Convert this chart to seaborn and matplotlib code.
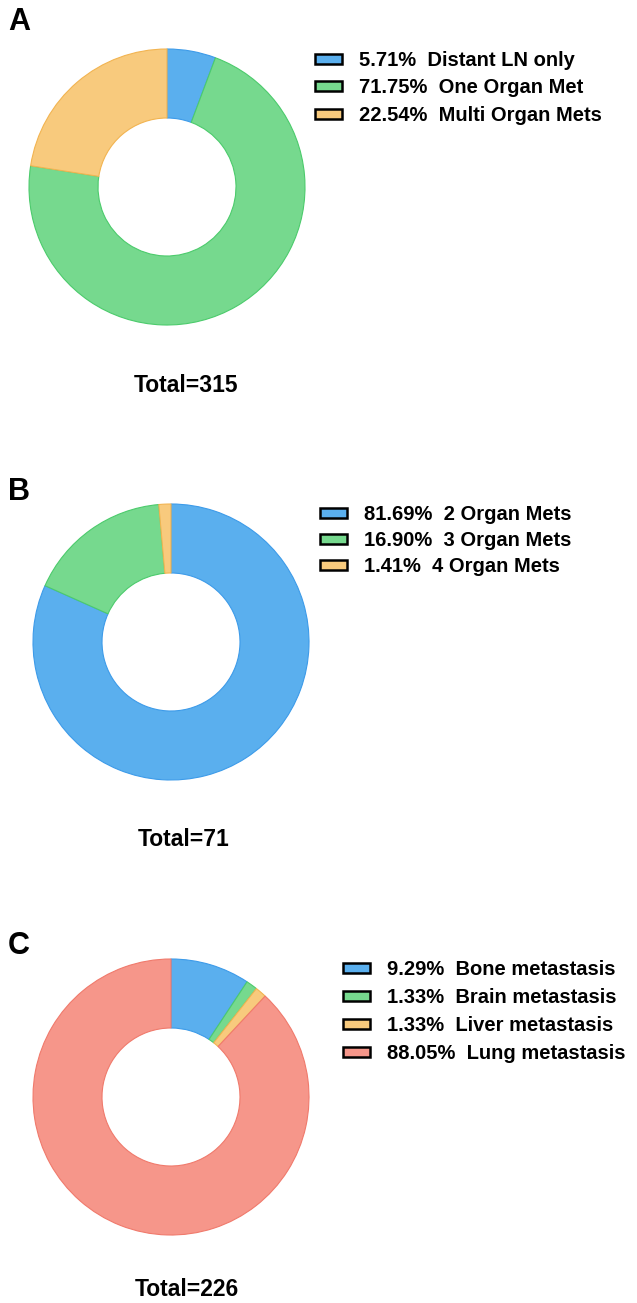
import matplotlib
matplotlib.use("Agg")
import matplotlib.pyplot as plt
from matplotlib.patches import Patch
import seaborn as sns

sns.set_theme(style="white")
plt.rcParams['font.family'] = ['Liberation Sans', 'DejaVu Sans']
plt.rcParams['text.color'] = 'black'

# ---- data ----
labels_a = ["Distant LN only", "One Organ Met", "Multi Organ Mets"]
values_a = [5.71, 71.75, 22.54]
total_a = 315

labels_b = ["2 Organ Mets", "3 Organ Mets", "4 Organ Mets"]
values_b = [81.69, 16.90, 1.41]
total_b = 71

labels_c = ["Bone metastasis", "Brain metastasis", "Liver metastasis", "Lung metastasis"]
values_c = [9.29, 1.33, 1.33, 88.05]
total_c = 226

face_colors = ["#5AAFEE", "#76D98E", "#F8CA7D", "#F6968A"]
edge_colors = ["#3D9BE9", "#4CCB6C", "#F2B451", "#F07A6C"]

W, H = 637, 1303
fig = plt.figure(figsize=(W / 100, H / 100), dpi=100)
fig.patch.set_facecolor("white")


def fx(x):
    return x / W


def fy(y):
    return 1 - y / H


def donut(cx, cy, r, values, labels, total, letter, letter_xy, total_xy,
          leg_xy, n, spacing):
    ax = fig.add_axes([fx(cx - r), fy(cy + r), 2 * r / W, 2 * r / H])
    wedges, _ = ax.pie(values, colors=face_colors[:n], startangle=90,
                       counterclock=False, radius=1.0,
                       wedgeprops=dict(width=0.5, linewidth=0.8))
    for w, ec in zip(wedges, edge_colors):
        w.set_edgecolor(ec)
    ax.set_xlim(-1.0, 1.0)
    ax.set_ylim(-1.0, 1.0)
    ax.set_aspect("equal")
    ax.axis("off")
    fig.text(fx(letter_xy[0]), fy(letter_xy[1]), letter, fontsize=22,
             fontweight="bold", ha="left", va="center")
    fig.text(fx(total_xy[0]), fy(total_xy[1]), f"Total={total}", fontsize=16.5,
             fontweight="bold", ha="center", va="center")
    handles = [Patch(facecolor=face_colors[i], edgecolor="black", linewidth=1.8)
               for i in range(n)]
    texts = [f"{v:.2f}%  {l}" for v, l in zip(values, labels)]
    fig.legend(handles, texts, loc="upper left",
               bbox_to_anchor=(fx(leg_xy[0]), fy(leg_xy[1])),
               frameon=False, prop=dict(size=14.5, weight="bold"),
               handlelength=1.35, handleheight=0.4, handletextpad=0.85,
               labelspacing=spacing, borderaxespad=0, borderpad=0)


donut(167, 187, 138, values_a, labels_a, total_a, "A", (8, 22), (186, 385),
      (315, 51), 3, 0.42)
donut(171, 642, 138, values_b, labels_b, total_b, "B", (8, 492), (184, 840),
      (320, 505), 3, 0.35)
donut(171, 1097, 138, values_c, labels_c, total_c, "C", (8, 946), (187, 1290),
      (343, 960), 4, 0.45)

fig.savefig("out.png", dpi=100, facecolor="white")
